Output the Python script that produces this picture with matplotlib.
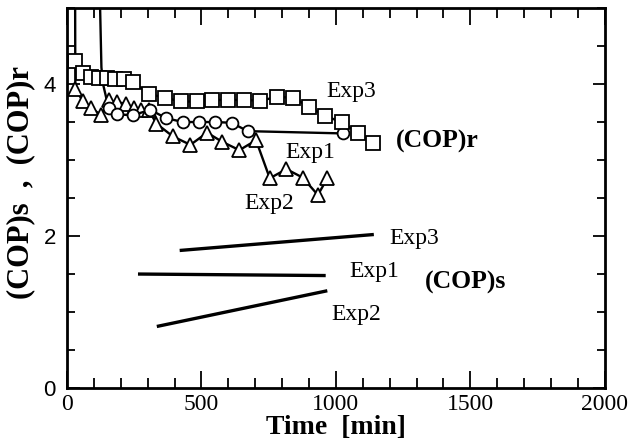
#!/usr/bin/env python3
"""
COP vs time for three experiments: (COP)r measured points plus
(COP)s fitted lines. Redrawn from a scanned figure.
"""

import matplotlib.pyplot as plt
from matplotlib.ticker import MultipleLocator

# --- data ---
# Exp3, squares
exp3_t = [30, 60, 89, 118, 147, 178, 211, 245, 304, 363, 425, 484, 540, 600,
          659, 719, 780, 841, 900, 959, 1021, 1081, 1137]
exp3_r = [4.30, 4.14, 4.09, 4.08, 4.08, 4.07, 4.07, 4.03, 3.87, 3.82, 3.77, 3.77,
          3.79, 3.79, 3.79, 3.78, 3.83, 3.82, 3.70, 3.58, 3.50, 3.36, 3.23]

# Exp1, circles
exp1_t = [155, 186, 245, 310, 369, 431, 490, 550, 612, 672, 1026]
exp1_r = [3.68, 3.60, 3.59, 3.66, 3.55, 3.50, 3.50, 3.50, 3.49, 3.38, 3.35]

# Exp2, triangles
exp2_t = [30, 60, 91, 128, 155, 186, 221, 249, 277, 304, 332, 394, 459, 521,
          577, 641, 703, 754, 816, 876, 933, 968]
exp2_r = [3.94, 3.77, 3.68, 3.59, 3.79, 3.76, 3.74, 3.68, 3.66, 3.66, 3.48, 3.31,
          3.20, 3.36, 3.24, 3.13, 3.26, 2.76, 2.88, 2.77, 2.54, 2.76]

# start-up transients (come down from off the top of the plot)
lead_a_t = [30, 31]
lead_a_r = [5.5, 3.94]
lead_b_t = [120, 128, 134, 155]
lead_b_r = [5.5, 4.22, 4.00, 3.68]

# (COP)s lines
s3_t, s3_v = [419, 1141], [1.81, 2.02]
s1_t, s1_v = [264, 962], [1.50, 1.48]
s2_t, s2_v = [334, 968], [0.81, 1.28]

SERIF = "Liberation Serif"

fig = plt.figure(figsize=(6.35, 4.45), dpi=100)
ax = fig.add_axes([0.1055, 0.128, 0.847, 0.854])

lw = 1.7
mk = dict(color="black", linewidth=lw, markerfacecolor="white",
          markeredgecolor="black", markeredgewidth=1.3)

ax.plot(lead_a_t, lead_a_r, color="black", linewidth=lw)
ax.plot(lead_b_t, lead_b_r, color="black", linewidth=lw)
ax.plot(exp2_t, exp2_r, marker="^", markersize=9.5, **mk)
ax.plot(exp1_t, exp1_r, marker="o", markersize=8.5, **mk)
ax.plot(exp3_t, exp3_r, marker="s", markersize=9.5, **mk)

for t, v in [(s3_t, s3_v), (s1_t, s1_v), (s2_t, s2_v)]:
    ax.plot(t, v, color="black", linewidth=2.4, solid_capstyle="butt")

ax.set_xlim(0, 2000)
ax.set_ylim(0, 5)

# labels on the curves
lab = dict(fontsize=17, family=SERIF, ha="center", va="center")
ax.text(1056, 3.90, "Exp3", **lab)
ax.text(905, 3.10, "Exp1", **lab)
ax.text(752, 2.43, "Exp2", **lab)
ax.text(1293, 1.97, "Exp3", **lab)
ax.text(1144, 1.53, "Exp1", **lab)
ax.text(1074, 0.97, "Exp2", **lab)
ax.text(1378, 3.24, "(COP)r", fontsize=18.5, family=SERIF, fontweight="bold",
        ha="center", va="center")
ax.text(1481, 1.39, "(COP)s", fontsize=18.5, family=SERIF, fontweight="bold",
        ha="center", va="center")

ax.set_xlabel("Time  [min]", fontsize=20, family=SERIF, fontweight="bold",
              labelpad=0)
ax.set_ylabel("(COP)s  ,  (COP)r", fontsize=22, family=SERIF, fontweight="bold")
ax.yaxis.set_label_coords(-0.059, 0.54)

ax.xaxis.set_major_locator(MultipleLocator(500))
ax.xaxis.set_minor_locator(MultipleLocator(100))
ax.yaxis.set_major_locator(MultipleLocator(2))
ax.yaxis.set_minor_locator(MultipleLocator(0.5))

ax.tick_params(axis="both", which="both", direction="in", top=True, right=True,
               width=1.3)
ax.tick_params(axis="x", which="major", length=12, pad=4, labelsize=17)
ax.tick_params(axis="x", which="minor", length=7)
ax.tick_params(axis="y", which="major", length=9, pad=8, labelsize=16)
ax.tick_params(axis="y", which="minor", length=6)

for lbl in ax.get_xticklabels():
    lbl.set_family(SERIF)
for lbl in ax.get_yticklabels():
    lbl.set_family("Liberation Sans")

for sp in ax.spines.values():
    sp.set_linewidth(2.0)

fig.savefig("out.png", dpi=100)
